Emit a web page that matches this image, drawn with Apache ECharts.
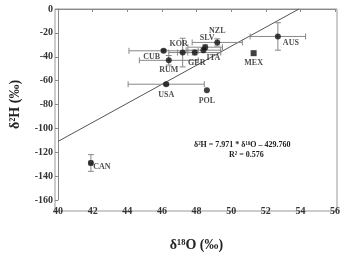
<!DOCTYPE html>
<html>
<head>
<meta charset="utf-8">
<script src="https://cdn.jsdelivr.net/npm/echarts@6/dist/echarts.min.js"></script>
<style>
  html, body { margin: 0; padding: 0; background: #fff; }
  #chart { width: 343px; height: 257px; }
</style>
</head>
<body>
<div id="chart"></div>
<script>
const countries = ["CAN", "USA", "POL", "MEX", "AUS", "NZL", "SLV", "ITA", "GER", "KOR", "CUB", "RUM"];
const d18O = [41.9, 46.25, 48.6, 51.3, 52.7, 49.2, 48.5, 48.4, 47.9, 47.2, 46.1, 46.4];
const d2H = [-129, -63, -68, -37, -23, -28, -32, -34.5, -36.5, -36.5, -35, -43];
const d18OErr = [0.1, 2.2, 0, 0, 1.6, 1.45, 1.0, 1.0, 1.5, 0.3, 2.0, 1.7];
const d2HErr = [7, 1, 0, 0, 11.5, 3, 2, 2, 2, 12, 1, 4];
const slope = 7.971;
const intercept = -429.76;

const labelPos = {
  CAN: [11, 4], USA: [0, 11], POL: [0, 11], MEX: [0, 10], AUS: [13, 6],
  NZL: [0, -11], SLV: [2, -9], ITA: [10, 8], GER: [2, 10], KOR: [-4, -9],
  CUB: [-12, 6], RUM: [0, 10]
};

const chart = echarts.init(document.getElementById("chart"));
const font = "Liberation Serif";

const points = countries.map(function (c, i) {
  return {
    name: c,
    value: [d18O[i], d2H[i]],
    symbol: c === "MEX" ? "rect" : "circle",
    label: { offset: labelPos[c] }
  };
});

const errData = countries.map(function (c, i) {
  return [d18O[i], d2H[i], d18OErr[i], d2HErr[i]];
});

const fitLine = [[40, slope * 40 + intercept], [-intercept / slope, 0]];

const option = {
  animation: false,
  grid: { left: 55, right: 6, top: 9, bottom: 46 },
  xAxis: {
    type: "value",
    min: 40,
    max: 56,
    interval: 2,
    name: "δ¹⁸O (‰)",
    nameLocation: "middle",
    nameGap: 38,
    nameTextStyle: { fontFamily: font, fontWeight: "bold", fontSize: 14, color: "#222" },
    axisLine: { lineStyle: { color: "#888" } },
    axisTick: { length: 3, lineStyle: { color: "#888" } },
    axisLabel: { fontFamily: font, fontWeight: "bold", fontSize: 10, color: "#333", margin: 6 },
    splitLine: { show: false }
  },
  yAxis: {
    type: "value",
    min: -160,
    max: 0,
    interval: 20,
    name: "δ²H (‰)",
    nameLocation: "middle",
    nameGap: 36,
    nameTextStyle: { fontFamily: font, fontWeight: "bold", fontSize: 14, color: "#222" },
    axisLine: { lineStyle: { color: "#888" } },
    axisTick: { length: 3, lineStyle: { color: "#888" } },
    axisLabel: { fontFamily: font, fontWeight: "bold", fontSize: 10, color: "#333", margin: 5 },
    splitLine: { show: false }
  },
  graphic: [
    {
      type: "rect",
      shape: { x: 55, y: 9, width: 282, height: 202 },
      style: { fill: "none", stroke: "#999", lineWidth: 1 },
      silent: true
    },
    {
      type: "text",
      left: 194,
      top: 141,
      style: {
        text: "δ²H = 7.971 * δ¹⁸O – 429.760",
        fontFamily: font,
        fontWeight: "bold",
        fontSize: 8,
        fill: "#222"
      }
    },
    {
      type: "text",
      left: 229,
      top: 151,
      style: {
        text: "R² = 0.576",
        fontFamily: font,
        fontWeight: "bold",
        fontSize: 8,
        fill: "#222"
      }
    }
  ],
  series: [
    {
      type: "line",
      data: fitLine,
      symbol: "none",
      lineStyle: { color: "#555", width: 1 },
      silent: true,
      z: 1
    },
    {
      type: "custom",
      data: errData,
      silent: true,
      z: 2,
      renderItem: function (params, api) {
        const x = api.value(0), y = api.value(1), ex = api.value(2), ey = api.value(3);
        const c = api.coord([x, y]);
        const xl = api.coord([x - ex, y]), xr = api.coord([x + ex, y]);
        const yt = api.coord([x, y + ey]), yb = api.coord([x, y - ey]);
        const cap = 3;
        const st = { stroke: "#888", lineWidth: 1 };
        const kids = [];
        if (ex > 0) {
          kids.push({ type: "line", shape: { x1: xl[0], y1: c[1], x2: xr[0], y2: c[1] }, style: st });
          kids.push({ type: "line", shape: { x1: xl[0], y1: c[1] - cap, x2: xl[0], y2: c[1] + cap }, style: st });
          kids.push({ type: "line", shape: { x1: xr[0], y1: c[1] - cap, x2: xr[0], y2: c[1] + cap }, style: st });
        }
        if (ey > 0) {
          kids.push({ type: "line", shape: { x1: c[0], y1: yt[1], x2: c[0], y2: yb[1] }, style: st });
          kids.push({ type: "line", shape: { x1: c[0] - cap, y1: yt[1], x2: c[0] + cap, y2: yt[1] }, style: st });
          kids.push({ type: "line", shape: { x1: c[0] - cap, y1: yb[1], x2: c[0] + cap, y2: yb[1] }, style: st });
        }
        return { type: "group", children: kids };
      }
    },
    {
      type: "scatter",
      data: points,
      symbolSize: 6,
      itemStyle: { color: "#111" },
      z: 3,
      label: {
        show: true,
        position: "inside",
        formatter: "{b}",
        fontFamily: font,
        fontWeight: "bold",
        fontSize: 8,
        color: "#222"
      }
    }
  ]
};

chart.setOption(option);
</script>
</body>
</html>
